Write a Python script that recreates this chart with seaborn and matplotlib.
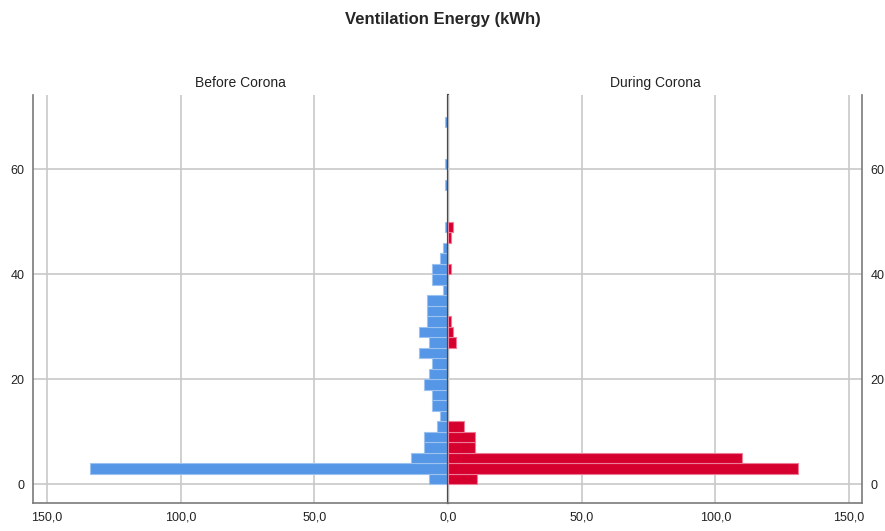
import matplotlib
matplotlib.use("Agg")
import matplotlib.pyplot as plt
import seaborn as sns
import pandas as pd

# DATA: histogram bins (lower edge, width 2 kWh) and counts per group
bin_starts = list(range(0, 70, 2))
before_counts = [7, 134, 14, 9, 9, 4, 3, 6, 6, 9, 7, 6, 11, 7, 11, 8, 8, 8, 2, 6,
                 6, 3, 2, 0, 1, 0, 0, 0, 1, 0, 1, 0, 0, 0, 1]
during_counts = [11, 131, 110, 10, 10, 6, 0, 0, 0, 0, 0, 0, 0, 3, 2, 1, 0, 0, 0, 0,
                 1, 0, 0, 1, 2, 0, 0, 0, 0, 0, 0, 0, 0, 0, 0]
panel_titles = ["Before Corona", "During Corona"]
x_ticks = [0, 50, 100, 150]
y_ticks = [0, 20, 40, 60]

sns.set_style("white")
plt.rcParams['font.family'] = ['Liberation Sans', 'DejaVu Sans']

BLUE = "#5596e6"
RED = "#d6002f"
GRID = "#c8c8c8"
SPINE = "#7a7a7a"

df = pd.DataFrame({"bin": bin_starts, "before": before_counts, "during": during_counts})

fig = plt.figure(figsize=(8.85, 5.31), dpi=100)
ax_l = fig.add_axes([33 / 885, 28 / 531, 415 / 885, 408 / 531])
ax_r = fig.add_axes([448 / 885, 28 / 531, 414 / 885, 408 / 531])
ax_r.patch.set_visible(False)

sns.histplot(data=df, y="bin", weights="before", binwidth=2, binrange=(0, 70), ax=ax_l,
             color=BLUE, alpha=1, edgecolor="#9cc2f0", linewidth=0.8, zorder=3)
sns.histplot(data=df, y="bin", weights="during", binwidth=2, binrange=(0, 70), ax=ax_r,
             color=RED, alpha=1, edgecolor="#ec7d96", linewidth=0.8, zorder=3)

# empty bins would still draw their outline along the centre line
for ax in [ax_l, ax_r]:
    for p in ax.patches:
        if p.get_width() == 0:
            p.set_visible(False)

fmt = lambda v: f"{v:.1f}".replace(".", ",")

for ax, title in zip([ax_l, ax_r], panel_titles):
    ax.set_ylim(-3.6, 74.1)
    ax.set_xticks(x_ticks)
    ax.set_xticklabels([fmt(v) for v in x_ticks], fontsize=9)
    ax.set_yticks(y_ticks)
    ax.set_xlabel("")
    ax.set_ylabel("")
    ax.grid(True, color=GRID, linewidth=1.2, zorder=0)
    ax.set_axisbelow(True)
    ax.tick_params(length=0, pad=6, labelsize=9, colors="#222222")
    ax.set_title(title, fontsize=10, pad=6, color="#222222")
    for s in ax.spines.values():
        s.set_color(SPINE)
        s.set_linewidth(1.2)
    ax.spines["top"].set_visible(False)

ax_l.set_xlim(155.3, 0)
ax_r.set_xlim(0, 154.9)
# shared "0,0" is printed once
ax_r.set_xticklabels([""] + [fmt(v) for v in x_ticks[1:]], fontsize=9)

ax_l.spines["right"].set_color("#4a4a4a")
ax_l.spines["right"].set_linewidth(1.6)
ax_l.spines["right"].set_zorder(5)
ax_r.spines["left"].set_visible(False)

ax_r.yaxis.tick_right()
ax_r.yaxis.set_label_position("right")

fig.suptitle("Ventilation Energy (kWh)", fontsize=12, fontweight="bold", y=0.978)

fig.savefig("out.png", dpi=100)
